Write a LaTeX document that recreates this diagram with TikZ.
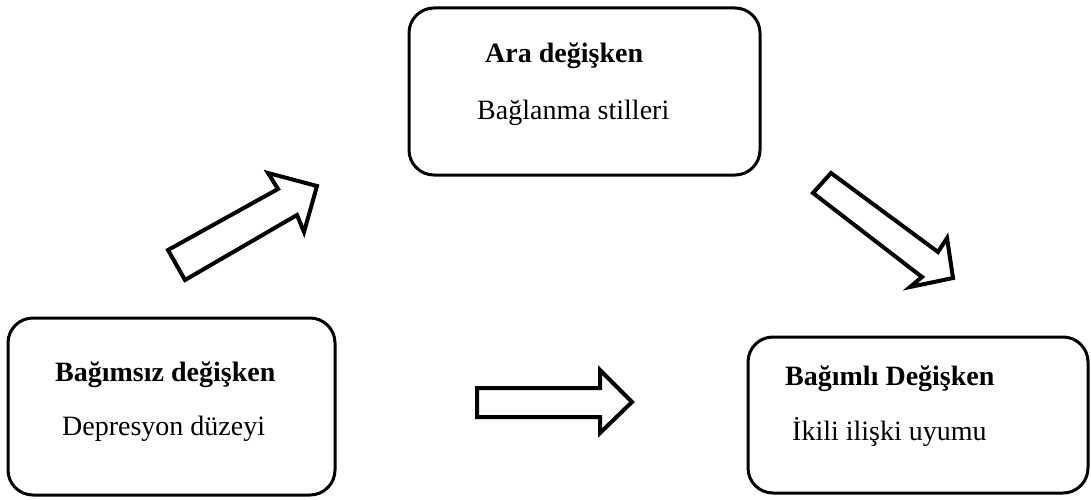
\documentclass[tikz,border=0pt]{standalone}
\usepackage{fontspec}
\setmainfont{Liberation Serif}
\begin{document}
\begin{tikzpicture}[x=1pt,y=-1pt,
  box/.style={draw=black,line width=3pt,rounded corners=25pt,fill=white,inner sep=0pt},
  txt/.style={anchor=base west,inner sep=0pt,font=\fontsize{28}{32}\selectfont},
  ttl/.style={txt,font=\fontsize{28}{32}\selectfont\bfseries},
  blockarrow/.style={draw=black,line width=4pt,line join=miter,fill=white}]
\useasboundingbox (0,0) rectangle (1091,500);
% boxes
\node[box,minimum width=351pt,minimum height=167pt] (mid) at (584.5,91.5) {};
\node[box,minimum width=327pt,minimum height=177pt] (ind) at (171.5,406.5) {};
\node[box,minimum width=340pt,minimum height=156pt] (dep) at (918,415) {};
% texts
\node[ttl] (midT) at (485,63) {Ara değişken};
\node[txt] (midS) at (477,120) {Bağlanma stilleri};
\node[ttl] (indT) at (55,381) {Bağımsız değişken};
\node[txt] (indS) at (62,435) {Depresyon düzeyi};
\node[ttl] (depT) at (785,385) {Bağımlı Değişken};
\node[txt] (depS) at (792,440) {İkili ilişki uyumu};
% block arrows
\draw[blockarrow] (168,250) -- (278,189) -- (268,173) -- (317,186) -- (304,232) -- (297,215) -- (185,280) -- cycle;
\draw[blockarrow] (831,173) -- (938,252) -- (947,238) -- (953,278) -- (910,287) -- (922,277) -- (813,193) -- cycle;
\draw[blockarrow] (477,388) -- (600,388) -- (600,370) -- (632,402) -- (600,433) -- (600,417) -- (477,417) -- cycle;
\end{tikzpicture}
\end{document}
